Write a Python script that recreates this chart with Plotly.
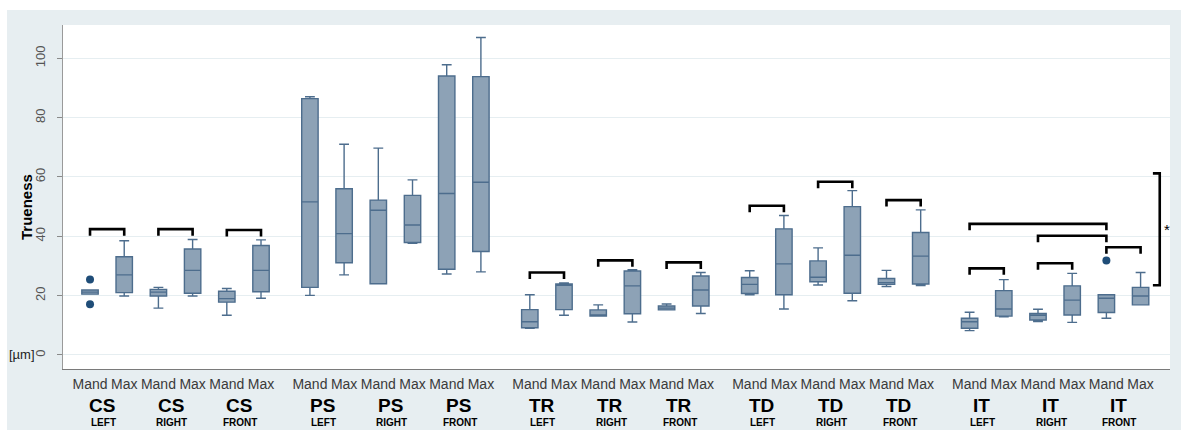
import plotly.graph_objects as go

# Regions, sides and jaws: one box per (region, side, jaw)
regions = ["CS", "PS", "TR", "TD", "IT"]
sides = ["LEFT", "RIGHT", "FRONT"]
jaws = ["Mand", "Max"]

# Box statistics in µm, ordered region -> side -> jaw
lower = [20.5, 19.9, 15.8, 19.9, 13.4, 19.1,
         20.1, 27.0, 24.0, 37.6, 27.3, 28.0,
         9.0, 13.4, 13.1, 11.1, 15.2, 14.0,
         20.3, 15.5, 23.6, 18.3, 23.1, 23.4,
         8.2, 12.9, 11.3, 11.0, 12.4, 16.9]
q1 = [20.5, 21.0, 19.9, 20.8, 17.8, 21.3,
      22.8, 31.1, 24.0, 37.9, 28.9, 34.9,
      9.2, 15.3, 13.1, 13.9, 15.2, 16.5,
      20.7, 20.3, 24.7, 20.8, 23.8, 23.9,
      9.0, 13.1, 11.8, 13.5, 14.3, 16.9]
median = [21.2, 27.0, 21.2, 28.5, 19.0, 28.5,
          51.6, 40.9, 48.8, 43.8, 54.4, 58.2,
          11.2, 23.5, 13.5, 23.3, 15.8, 21.9,
          23.8, 30.7, 26.2, 33.6, 24.4, 33.3,
          11.2, 15.5, 13.4, 18.5, 19.1, 19.9]
q3 = [21.9, 33.1, 22.1, 35.7, 21.5, 36.9,
      86.4, 56.0, 52.2, 53.8, 94.0, 93.8,
      15.3, 23.9, 15.2, 28.3, 16.5, 26.6,
      26.1, 42.5, 31.7, 50.0, 25.8, 41.3,
      12.4, 21.7, 14.0, 23.3, 20.3, 22.8]
upper = [21.9, 38.5, 22.8, 38.9, 22.4, 38.8,
         87.0, 71.0, 69.7, 59.0, 97.8, 107.0,
         20.3, 24.3, 16.9, 28.7, 17.2, 27.8,
         28.4, 47.0, 36.1, 55.4, 28.5, 48.9,
         14.4, 25.4, 15.4, 27.5, 20.3, 27.8]

# Outside values: (box index, value)
outlier_box = [0, 0, 28]
outlier_val = [25.4, 17.1, 31.8]

# Significance brackets: (first box, second box, bar height)
bracket_from = [0, 2, 4, 12, 14, 16, 18, 20, 22, 24, 26, 28, 24, 26]
bracket_to = [1, 3, 5, 13, 15, 17, 19, 21, 23, 25, 27, 29, 28, 28]
bracket_height = [42.4, 42.4, 42.1, 27.8, 31.9, 31.2, 50.3, 58.4, 52.2,
                  29.2, 30.9, 36.3, 44.2, 40.2]
# Vertical bracket at the right edge with its star
vbracket_low, vbracket_high = 23.5, 61.2

# ---- layout helpers -------------------------------------------------------
GROUP_STEP = 6.43
n_box = len(regions) * len(sides) * len(jaws)
xpos = [(i // 6) * GROUP_STEP + (i % 6) for i in range(n_box)]
tick_text = [jaws[i % 2] for i in range(n_box)]

FILL = "#8da2b6"
EDGE = "#4d6d8d"
DOT = "#1f4d78"
BG = "#e7eef1"
FONT = "Liberation Sans, Arial"

W, H = 1181, 430
ML, MR, MT, MB = 63, 11, 25, 61
PW, PH = W - ML - MR, H - MT - MB


def px_to_paper_x(px):
    return (px - ML) / PW


def px_to_paper_y(py):
    return (H - MB - py) / PH


fig = go.Figure()

fig.add_trace(go.Box(
    x=xpos, q1=q1, median=median, q3=q3,
    lowerfence=lower, upperfence=upper,
    width=0.48, whiskerwidth=0.6,
    fillcolor=FILL, line=dict(color=EDGE, width=1.4),
    boxpoints=False, showlegend=False, hoverinfo="skip",
))

fig.add_trace(go.Scatter(
    x=[xpos[b] for b in outlier_box], y=outlier_val,
    mode="markers", marker=dict(color=DOT, size=8),
    showlegend=False, hoverinfo="skip",
))

shapes = []
LEG = 2.2
for a, b, h in zip(bracket_from, bracket_to, bracket_height):
    xa, xb = xpos[a], xpos[b]
    shapes.append(dict(
        type="path", xref="x", yref="y",
        path=f"M {xa} {h - LEG} L {xa} {h} L {xb} {h} L {xb} {h - LEG}",
        line=dict(color="black", width=2.6),
    ))

xv = xpos[-1] + 0.56
xt = xpos[-1] + 0.36
shapes.append(dict(
    type="path", xref="x", yref="y",
    path=(f"M {xt} {vbracket_high} L {xv} {vbracket_high} "
          f"L {xv} {vbracket_low} L {xt} {vbracket_low}"),
    line=dict(color="black", width=2.6),
))

# white strips along the top and left border of the page
shapes.append(dict(type="rect", xref="paper", yref="paper", layer="below",
                   x0=px_to_paper_x(-5), x1=px_to_paper_x(7),
                   y0=px_to_paper_y(H + 5), y1=px_to_paper_y(-5),
                   fillcolor="white", line=dict(width=0)))
shapes.append(dict(type="rect", xref="paper", yref="paper", layer="below",
                   x0=px_to_paper_x(-5), x1=px_to_paper_x(W + 5),
                   y0=px_to_paper_y(10), y1=px_to_paper_y(-5),
                   fillcolor="white", line=dict(width=0)))

annotations = []
for k in range(len(regions) * len(sides)):
    xc = (xpos[2 * k] + xpos[2 * k + 1]) / 2
    annotations.append(dict(
        x=xc, xref="x", y=px_to_paper_y(405), yref="paper",
        text=f"<b>{regions[k // 3]}</b>", showarrow=False, xshift=-5,
        font=dict(family=FONT, size=19, color="black"),
        xanchor="center", yanchor="middle",
    ))
    annotations.append(dict(
        x=xc, xref="x", y=px_to_paper_y(422.5), yref="paper",
        text=f"<b>{sides[k % 3]}</b>", showarrow=False, xshift=-4,
        font=dict(family=FONT, size=10, color="black"),
        xanchor="center", yanchor="middle",
    ))

annotations.append(dict(
    x=xpos[-1] + 0.78, xref="x", y=42.4, yref="y", text="*",
    showarrow=False, xanchor="center", yanchor="middle",
    font=dict(family=FONT, size=15, color="black"),
))
annotations.append(dict(
    x=px_to_paper_x(26), xref="paper", y=px_to_paper_y(207), yref="paper",
    text="<b>Trueness</b>", textangle=-90, showarrow=False,
    xanchor="center", yanchor="middle",
    font=dict(family=FONT, size=15, color="black"),
))
annotations.append(dict(
    x=px_to_paper_x(22), xref="paper", y=0, yref="y",
    text="[µm]", showarrow=False, xanchor="center", yanchor="middle",
    font=dict(family=FONT, size=13, color="#222"),
))

fig.update_layout(
    width=W, height=H,
    margin=dict(l=ML, r=MR, t=MT, b=MB, pad=0),
    paper_bgcolor=BG, plot_bgcolor="white",
    shapes=shapes, annotations=annotations,
    xaxis=dict(
        range=[-0.79, 31.58], tickvals=xpos, ticktext=tick_text,
        ticks="", showgrid=False, zeroline=False,
        showline=True, linecolor="#7a7a7a", linewidth=1,
        ticklabelstandoff=2,
        tickfont=dict(family=FONT, size=14, color="#3a3a3a"),
    ),
    yaxis=dict(
        range=[-4.72, 111.2], tickvals=[0, 20, 40, 60, 80, 100],
        tickangle=-90, ticks="outside", ticklen=5, tickcolor="#8a8a8a",
        ticklabelstandoff=7,
        showgrid=True, gridcolor="#e6eef1", gridwidth=1, zeroline=False,
        showline=True, linecolor="#9a9a9a", linewidth=1,
        tickfont=dict(family=FONT, size=13, color="#555"),
    ),
)

fig.write_html("out.html")
